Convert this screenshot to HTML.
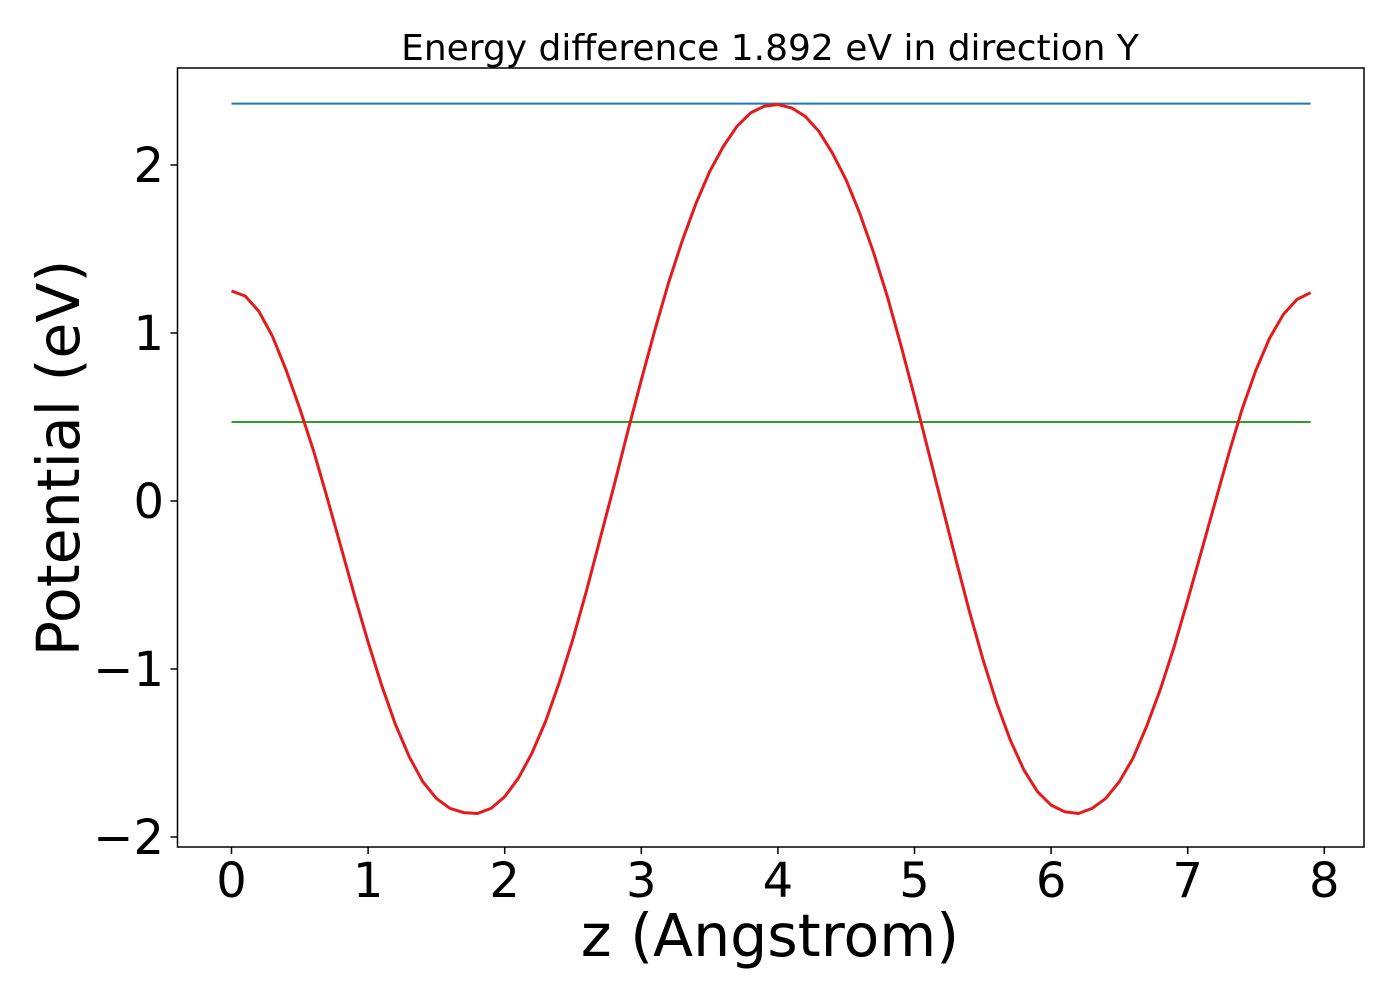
<!DOCTYPE html>
<html><head><meta charset="utf-8"><style>
html,body{margin:0;padding:0;background:#fff;}
svg{display:block;font-family:"DejaVu Sans","Liberation Sans",sans-serif;}
</style></head><body>
<svg id="chart" width="1400" height="1000" viewBox="0 0 1400 1000" xmlns="http://www.w3.org/2000/svg">
<rect width="1400" height="1000" fill="#fff"/>
<text x="770" y="60" font-size="36" text-anchor="middle">Energy difference 1.892 eV in direction Y</text>
<g id="plot"></g>
<rect x="177.5" y="68" width="1186.5" height="779" fill="none" stroke="#000" stroke-width="1.5"/>
<text x="770" y="956" font-size="58.5" text-anchor="middle">z (Angstrom)</text>
<text transform="translate(79,458) rotate(-90)" font-size="58.5" text-anchor="middle">Potential (eV)</text>
</svg>
<script>
const xTicks=[0,1,2,3,4,5,6,7,8];
const yTicks=[-2,-1,0,1,2];
const yTickLabels=["\u22122","\u22121","0","1","2"];
const zStart=0, zStep=0.1;
const potential=[1.25,1.22,1.13,0.98,0.78,0.55,0.30,0.02,-0.27,-0.56,-0.84,-1.10,-1.33,-1.52,-1.67,-1.77,-1.83,-1.855,-1.86,-1.83,-1.76,-1.65,-1.50,-1.31,-1.08,-0.82,-0.53,-0.22,0.09,0.41,0.72,1.02,1.30,1.55,1.77,1.96,2.11,2.23,2.31,2.35,2.36,2.34,2.29,2.20,2.07,1.91,1.71,1.48,1.22,0.93,0.62,0.30,-0.02,-0.34,-0.65,-0.94,-1.20,-1.42,-1.60,-1.73,-1.81,-1.85,-1.86,-1.83,-1.77,-1.67,-1.53,-1.34,-1.12,-0.87,-0.59,-0.30,-0.01,0.28,0.55,0.78,0.97,1.11,1.20,1.24];
const maxLevel=[2.365];
const refLevel=[0.47];
const hRange=[0,7.9];

const X=v=>231.5+v*136.6;
const Y=v=>501+(-v)*168;
const NS="http://www.w3.org/2000/svg";
const svg=document.getElementById('chart');
const g=document.getElementById('plot');
function mk(t,a,p){const e=document.createElementNS(NS,t);for(const k in a)e.setAttribute(k,a[k]);(p||g).appendChild(e);return e;}

function hline(v,color,name){
  const l=mk('line',{x1:X(hRange[0]),x2:X(hRange[1]),y1:Y(v),y2:Y(v),stroke:color,'stroke-width':2});
  
  
}
hline(maxLevel[0],'#1f77b4','max-potential-line');
hline(refLevel[0],'#2ca02c','reference-level-line');

const pts=potential.map((v,i)=>X(zStart+i*zStep).toFixed(1)+','+Y(v).toFixed(1)).join(' ');
const pl=mk('polyline',{points:pts,fill:'none',stroke:'#e41a1c','stroke-width':3,'stroke-linejoin':'round'});



xTicks.forEach(t=>{
  const l=mk('line',{x1:X(t),x2:X(t),y1:847,y2:854,stroke:'#000','stroke-width':1.5},svg);
  
  
  const tx=mk('text',{x:X(t),y:897,'font-size':48,'text-anchor':'middle'},svg);
  tx.textContent=String(t);
  
  
});
yTicks.forEach((t,i)=>{
  const l=mk('line',{x1:170.5,x2:177.5,y1:Y(t),y2:Y(t),stroke:'#000','stroke-width':1.5},svg);
  
  
  const tx=mk('text',{x:164,y:Y(t)+17,'font-size':48,'text-anchor':'end'},svg);
  tx.textContent=yTickLabels[i];
  
  
});
</script>
</body></html>
